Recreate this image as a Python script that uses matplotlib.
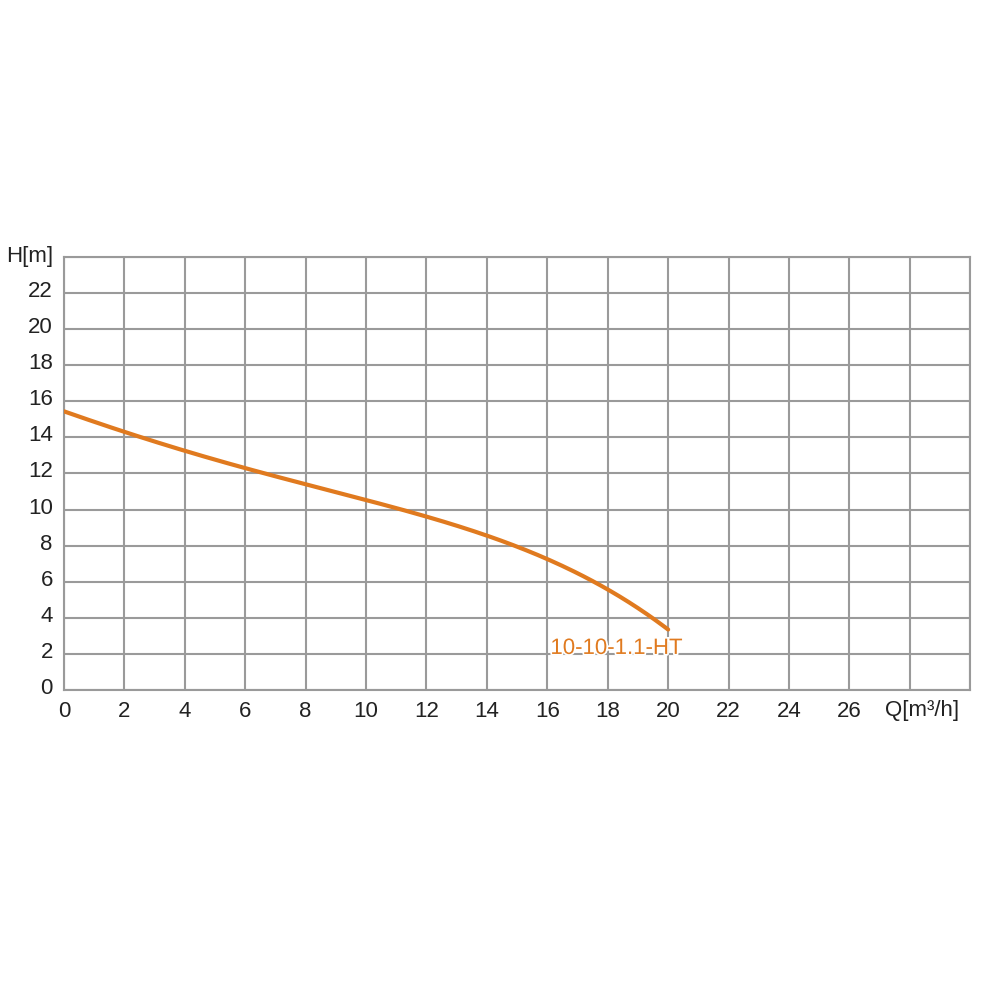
import matplotlib
matplotlib.use("Agg")
import matplotlib.pyplot as plt
import matplotlib.patheffects as pe
import matplotlib.transforms as mtransforms
import numpy as np

plt.rcParams['font.family'] = ['Liberation Sans', 'DejaVu Sans']

flow = [0, 2, 4, 6, 8, 10, 12, 14, 16, 18, 20]
head = [15.5, 14.2, 13.2, 12.4, 11.5, 10.5, 9.5, 8.5, 7.3, 5.65, 3.3]
curve_label = "10-10-1.1-HT"
x_ticks = list(range(0, 31, 2))
x_ticklabels = [str(v) for v in range(0, 27, 2)] + ["", ""]
y_ticks = list(range(0, 25, 2))
y_ticklabels = [str(v) for v in range(0, 23, 2)] + [""]

fig = plt.figure(figsize=(9.84, 9.92), dpi=100)
ax = fig.add_axes([0.065, 0.3045, 0.921, 0.4365])

xs = np.linspace(0, 20, 200)
coef = np.polyfit(flow, head, 4)
ys = np.polyval(coef, xs)
ax.plot(xs, ys, color='#E07A1F', lw=3, solid_capstyle='round', zorder=3)

ax.set_xlim(0, 30)
ax.set_ylim(0, 24)
ax.set_xticks(x_ticks)
ax.set_yticks(y_ticks)
ax.set_xticklabels(x_ticklabels)
ax.set_yticklabels(y_ticklabels)
ax.grid(True, color='#9a9a9a', lw=1.5)
ax.set_axisbelow(True)
for s in ax.spines.values():
    s.set_color('#9a9a9a')
    s.set_linewidth(1.5)
ax.tick_params(length=0, labelsize=16, colors='#222222')
ax.tick_params(axis='x', pad=8)
ax.tick_params(axis='y', pad=8)

offset = mtransforms.ScaledTranslation(0, 4/100, fig.dpi_scale_trans)
for lbl in ax.get_yticklabels():
    lbl.set_transform(lbl.get_transform() + offset)

ax.text(-0.0115, 1.0, "H[m]", transform=ax.transAxes, ha='right', va='center',
        fontsize=16, color='#222222')
ax.text(28.4, -1.15, "Q[m³/h]", ha='center', va='center', fontsize=16, color='#222222')

ax.text(18.3, 2.3, curve_label, ha='center', va='center', fontsize=16, color='#E07A1F',
        zorder=4, path_effects=[pe.withStroke(linewidth=2.5, foreground='white')])

fig.savefig("out.png", dpi=100)
